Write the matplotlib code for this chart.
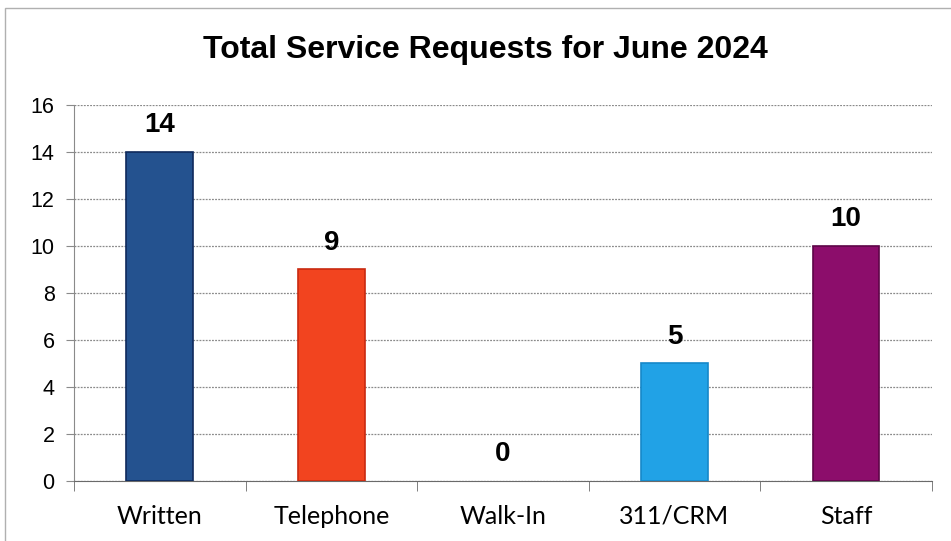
import matplotlib.pyplot as plt
from matplotlib.patches import Rectangle

categories = ["Written", "Telephone", "Walk-In", "311/CRM", "Staff"]
values = [14, 9, 0, 5, 10]
colors = ["#24528f", "#f2441f", "#7a7a7a", "#21a2e6", "#8c0d6b"]
edges = ["#0f2a5c", "#c92a10", "none", "#1588c9", "#5e0548"]
yticks = [0, 2, 4, 6, 8, 10, 12, 14, 16]

fig = plt.figure(figsize=(9.51, 5.41), dpi=100)
ax = fig.add_axes([0.0778, 0.111, 0.902, 0.695])

# light frame around the whole chart
fig.patches.append(Rectangle((0.005, -0.01), 1.0, 0.996, transform=fig.transFigure,
                             fill=False, edgecolor="#b0b0b0", linewidth=1.0))

x = range(len(categories))
ax.bar(x, values, width=0.39, color=colors, edgecolor=edges, linewidth=1.2, zorder=3)

for i, v in enumerate(values):
    ax.annotate(str(v), (i, v), xytext=(0, 10), textcoords="offset points",
                ha="center", va="bottom", fontsize=20, fontweight="bold",
                family="Liberation Sans")

ax.set_xlim(-0.5, len(categories) - 0.5)
ax.set_ylim(0, 16)
ax.set_yticks(yticks)
ax.set_yticklabels([str(t) for t in yticks], fontsize=15.5, family="Liberation Sans")
ax.set_xticks(list(x))
ax.set_xticklabels(categories, fontsize=18, family="Lato")
ax.tick_params(axis="x", length=0, pad=17)
ax.tick_params(axis="y", length=6, color="#8a8a8a", pad=8)

# category boundary ticks
ax.set_xticks([i - 0.5 for i in range(len(categories) + 1)], minor=True)
ax.tick_params(axis="x", which="minor", length=7, color="#6a6a6a")

ax.grid(axis="y", linestyle=(0, (1.5, 1)), color="#8a8a8a", linewidth=0.9, zorder=0)
for s in ["top", "right"]:
    ax.spines[s].set_visible(False)
ax.spines["left"].set_color("#8a8a8a")
ax.spines["left"].set_linestyle((0, (1.5, 1)))
ax.spines["bottom"].set_color("#6a6a6a")

fig.text(0.51, 0.908, "Total Service Requests for June 2024", ha="center", va="center",
         fontsize=23, fontweight="bold", family="Liberation Sans")

fig.savefig("out.png", dpi=100)
